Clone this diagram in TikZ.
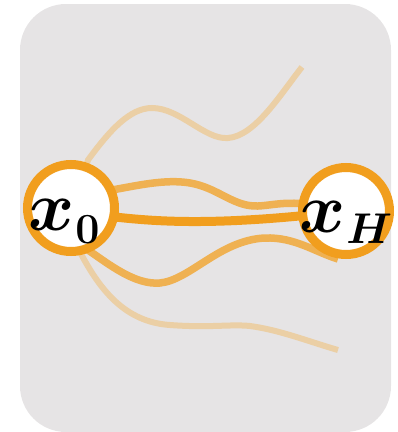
\RequirePackage{fix-cm}
\documentclass[tikz,border=0pt]{standalone}
\usepackage{bm}
\definecolor{bggray}{RGB}{230,228,229}
\definecolor{faint}{RGB}{235,207,165}
\definecolor{medium}{RGB}{239,177,82}
\definecolor{strong}{RGB}{241,158,30}
\newcommand{\bigsym}[2]{{\fontsize{70}{70}\selectfont$\bm{x}$}\kern1pt\raisebox{#2}{\fontsize{43}{43}\selectfont$\bm{#1}$}}
\tikzset{
  state/.style={circle, draw=strong, line width=9pt, fill=white, minimum size=87pt, inner sep=0pt},
  faintline/.style={draw=faint, line width=6pt},
  medline/.style={draw=medium, line width=7.5pt},
  strongline/.style={draw=strong, line width=9pt},
  lab/.style={inner sep=0pt, anchor=base west}
}
\begin{document}
\begin{tikzpicture}[x=1pt, y=-1pt]
\useasboundingbox (0,0) rectangle (398,432);
\fill[bggray, rounded corners=46pt] (20,4) rectangle (391,432);
\path (71,208) coordinate (lc) (346,211) coordinate (rc);
\coordinate (e1) at (302,67);
\coordinate (e2) at (338,350);
\coordinate (e4) at (338,259);
% faint curves
\draw[faintline] (lc) .. controls (80,185) and (85,170) .. (88,160) .. controls (110,130) and (130,108) .. (152,108) .. controls (180,108) and (205,140) .. (228,138) .. controls (255,136) and (280,95) .. (e1);
\draw[faintline] (lc) .. controls (72,230) and (76,240) .. (80,252) .. controls (100,290) and (125,322) .. (170,325) .. controls (210,328) and (230,324) .. (250,326) .. controls (280,330) and (310,342) .. (e2);
% medium curves
\draw[medline] (lc) -- (112,190) .. controls (140,185) and (170,178) .. (195,184) .. controls (220,190) and (235,207) .. (258,206) .. controls (278,205) and (292,198) .. (rc);
\draw[medline] (lc) -- (88,250) .. controls (110,265) and (135,285) .. (160,283) .. controls (190,280) and (220,240) .. (265,238) .. controls (295,237) and (315,252) .. (e4);
% strong curve
\draw[strongline] (lc) -- (115,217) .. controls (160,222) and (220,226) .. (rc);
% states
\node[state] (L) at (lc) {};
\node[state] (R) at (rc) {};
\node[lab] (l0) at (28,230) {\bigsym{0}{-13pt}};
\node[lab] (lH) at (299,232) {\bigsym{H}{-11pt}};
\end{tikzpicture}
\end{document}
